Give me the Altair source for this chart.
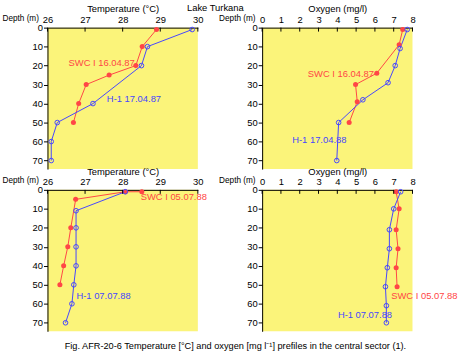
import altair as alt
import pandas as pd

# ---------------- data ----------------
# Top-left: temperature, April 1987
t87_swc_depth = [1, 10, 20, 25, 30, 40, 50]
t87_swc_val = [28.90, 28.52, 28.35, 27.64, 27.03, 26.83, 26.69]
t87_h1_depth = [1, 10, 20, 40, 50, 60, 70]
t87_h1_val = [29.85, 28.66, 28.50, 27.21, 26.26, 26.10, 26.10]

# Top-right: oxygen, April 1987/88
o87_swc_depth = [1, 9, 24, 30, 39, 50]
o87_swc_val = [7.48, 7.29, 6.10, 4.97, 5.06, 4.63]
o87_h1_depth = [1, 11, 20, 29, 38, 50, 70]
o87_h1_val = [7.72, 7.34, 7.08, 6.70, 5.36, 4.07, 3.97]

# Bottom-left: temperature, July 1988
t88_swc_depth = [1, 1, 5, 20, 30, 40, 50]
t88_swc_val = [28.51, 28.07, 26.75, 26.62, 26.54, 26.43, 26.33]
t88_h1_depth = [1, 11, 20, 30, 40, 50, 60, 70]
t88_h1_val = [28.07, 26.76, 26.76, 26.76, 26.76, 26.70, 26.65, 26.48]

# Bottom-right: oxygen, July 1988
o88_swc_depth = [1, 10, 21, 31, 41, 51]
o88_swc_val = [7.13, 7.29, 7.13, 7.23, 7.13, 7.18]
o88_h1_depth = [1, 10, 21, 31, 41, 51, 61, 70]
o88_h1_val = [7.37, 7.00, 6.77, 6.77, 6.66, 6.56, 6.61, 6.61]

# series labels: text, x value, depth
p1_labels = [("SWC I 16.04.87", 26.56, 18.5, "swc"), ("H-1 17.04.87", 27.58, 37.6, "h1")]
p2_labels = [("SWC I 16.04.87", 2.43, 24.4, "swc"), ("H-1 17.04.88", 1.60, 59.2, "h1")]
p3_labels = [("SWC I 05.07.88", 28.48, 3.8, "swc"), ("H-1 07.07.88", 26.77, 55.7, "h1")]
p4_labels = [("SWC I 05.07.88", 6.87, 55.7, "swc"), ("H-1 07.07.88", 4.03, 65.8, "h1")]

temp_ticks = [26, 27, 28, 29, 30]
oxy_ticks = [0, 1, 2, 3, 4, 5, 6, 7, 8]
depth_ticks = [0, 10, 20, 30, 40, 50, 60, 70]

title_text = "Lake Turkana"
caption_text = "Fig. AFR-20-6 Temperature [\u00b0C] and oxygen [mg l\u207b\u00b9] prefiles in the central sector (1)."

RED = "#ff4646"
BLUE = "#4646ff"
FONT = "Liberation Sans, Arial, sans-serif"
BG = "#fbf47a"
FS = 9.5


def panel(swc, h1, labels, xtitle, xdomain, xticks, ytitle_x, extras=()):
    rows = []
    for sname, (depths, vals) in (("swc", swc), ("h1", h1)):
        for i, (d, v) in enumerate(zip(depths, vals)):
            rows.append({"series": sname, "i": i, "depth": d, "value": v})
    df = pd.DataFrame(rows)
    lab = pd.DataFrame(labels, columns=["text", "value", "depth", "series"])

    xscale = alt.Scale(domain=xdomain, nice=False, zero=False)
    yscale = alt.Scale(domain=[0, 74.5], reverse=True, nice=False, zero=False)
    cscale = alt.Scale(domain=["swc", "h1"], range=[RED, BLUE])

    x = alt.X("value:Q", scale=xscale,
              axis=alt.Axis(orient="top", values=xticks, title=xtitle, ticks=False,
                            labelPadding=3, titlePadding=1, grid=False,
                            domainColor="black", labelColor="black", titleColor="black",
                            labelFontSize=FS, titleFontSize=FS, titleFontWeight="normal",
                            labelFont=FONT, titleFont=FONT, labelFlush=False))
    y = alt.Y("depth:Q", scale=yscale,
              axis=alt.Axis(values=depth_ticks, title="Depth (m)", tickSize=4, tickColor="black",
                            labelPadding=1, grid=False, domainColor="black",
                            labelColor="black", titleColor="black",
                            labelFontSize=FS, titleFontSize=8.3, titleFontWeight="normal",
                            labelFont=FONT, titleFont=FONT, titleAngle=0,
                            titleAlign="left", titleBaseline="middle",
                            titleX=ytitle_x, titleY=-9, labelFlush=False))
    color = alt.Color("series:N", scale=cscale, legend=None)

    base = alt.Chart(df)
    lines = base.mark_line(strokeWidth=1).encode(x=x, y=y, color=color, order="i:Q", detail="series:N")
    red_pts = base.transform_filter(alt.datum.series == "swc").mark_circle(size=26, opacity=1).encode(
        x=x, y=y, color=color)
    blue_pts = base.transform_filter(alt.datum.series == "h1").mark_point(
        shape="circle", size=22, filled=False, strokeWidth=1, opacity=1).encode(
        x=x, y=y, color=color)
    texts = alt.Chart(lab).mark_text(align="left", baseline="middle", fontSize=FS, font=FONT).encode(
        x=x, y=y, text="text:N", color=color)
    tick_df = pd.DataFrame({"value": xticks})
    xt = alt.Chart(tick_df).mark_rule(color="black", strokeWidth=1).encode(
        x=x, y=alt.value(0), y2=alt.value(4))
    layers = [lines, red_pts, blue_pts, texts, xt] + list(extras)
    return alt.layer(*layers).properties(width=152, height=143)


title_mark = alt.Chart(pd.DataFrame({"t": [title_text]})).mark_text(
    align="left", baseline="middle", fontSize=FS, font=FONT, color="black").encode(
    text="t:N", x=alt.value(141), y=alt.value(-20))
caption_mark = alt.Chart(pd.DataFrame({"t": [caption_text]})).mark_text(
    align="center", baseline="middle", fontSize=9.3, font=FONT, color="black").encode(
    text="t:N", x=alt.value(190), y=alt.value(158))

p1 = panel((t87_swc_depth, t87_swc_val), (t87_h1_depth, t87_h1_val), p1_labels,
           "Temperature (\u00b0C)", [26, 30], temp_ticks, -46, extras=[title_mark])
p2 = panel((o87_swc_depth, o87_swc_val), (o87_h1_depth, o87_h1_val), p2_labels,
           "Oxygen (mg/l)", [0, 8], oxy_ticks, -44)
p3 = panel((t88_swc_depth, t88_swc_val), (t88_h1_depth, t88_h1_val), p3_labels,
           "Temperature (\u00b0C)", [26, 30], temp_ticks, -46, extras=[caption_mark])
p4 = panel((o88_swc_depth, o88_swc_val), (o88_h1_depth, o88_h1_val), p4_labels,
           "Oxygen (mg/l)", [0, 8], oxy_ticks, -44)

chart = alt.concat(p1, p2, p3, p4, columns=2, spacing={"row": 21, "column": 65},
                   bounds="flush").properties(
    padding={"left": 2, "top": 1, "right": 0, "bottom": 0},
    background="white",
).configure_view(fill=BG, stroke=None).configure_axis(domainWidth=1)

chart.save("out.html", embed_options={"renderer": "svg", "actions": False})
